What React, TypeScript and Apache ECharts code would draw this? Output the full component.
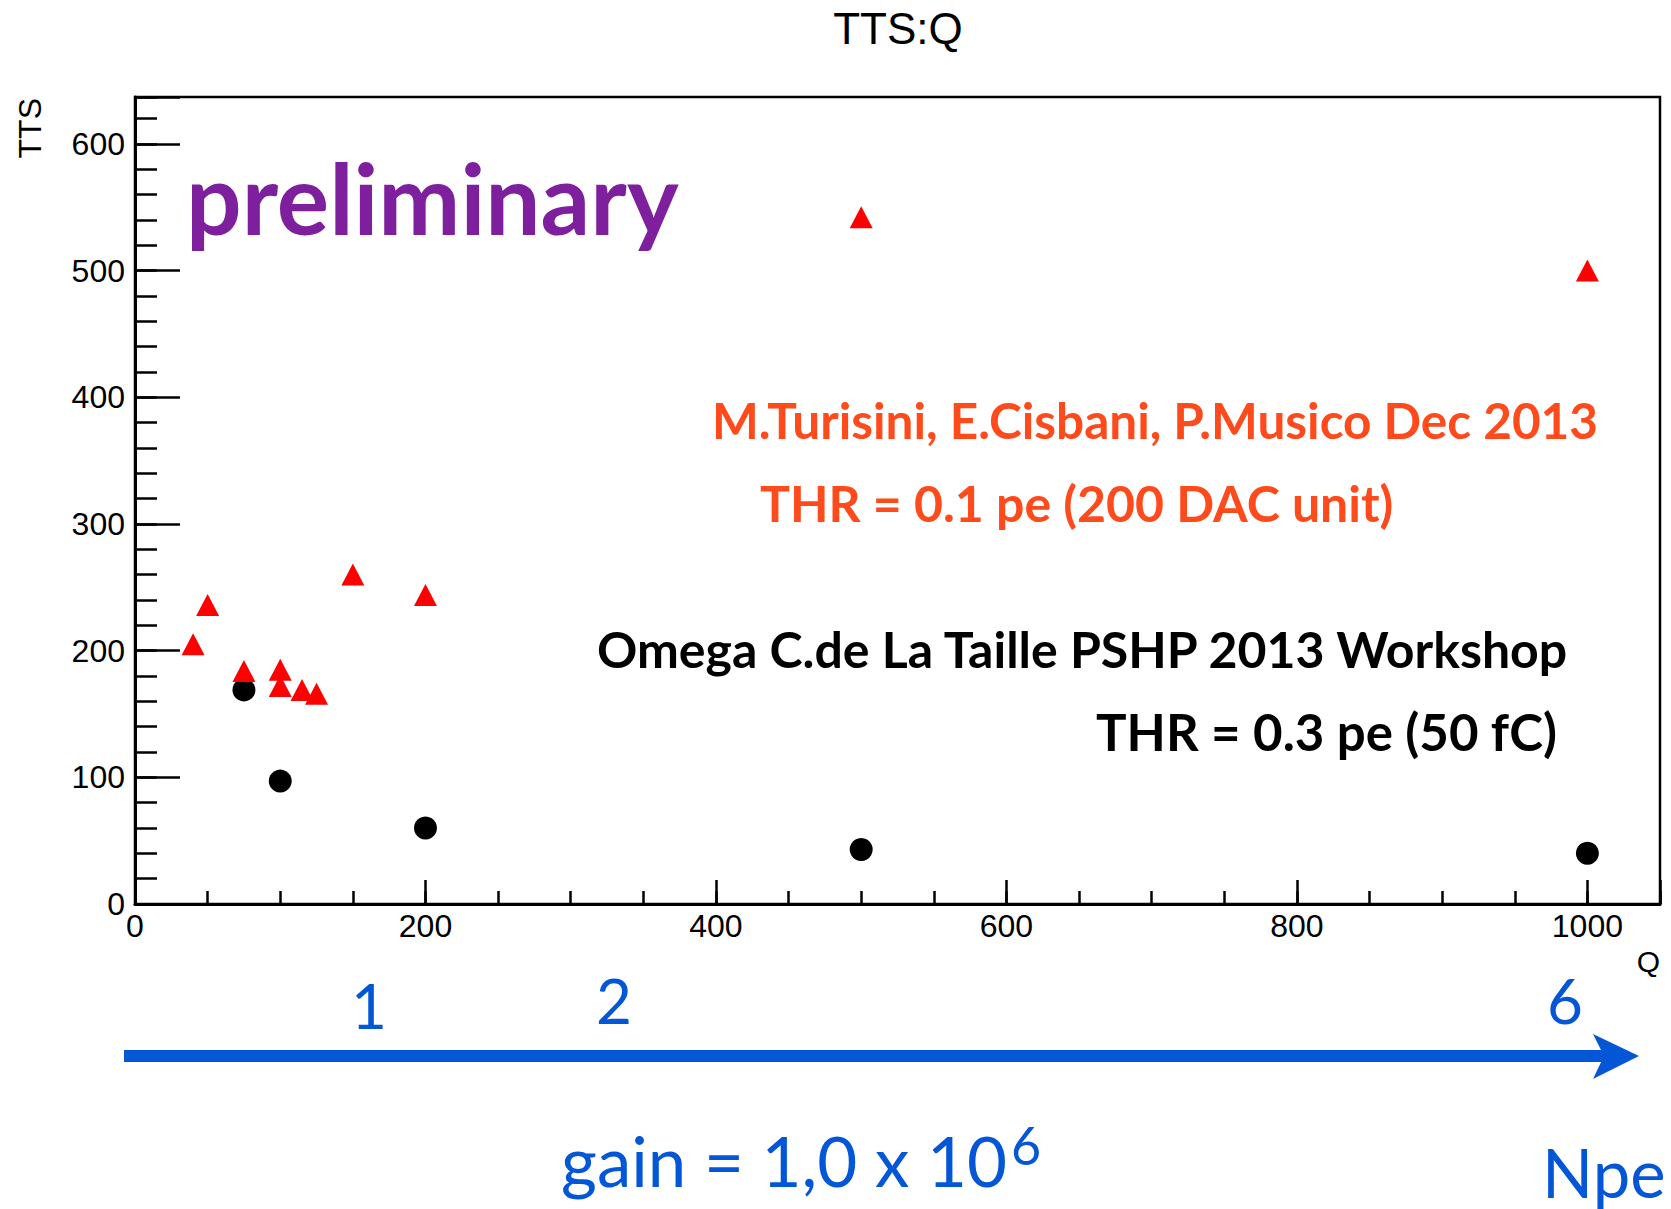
import React, { useEffect, useRef } from 'react';
import * as echarts from 'echarts';

// Omega (C.de La Taille) measurements: Q vs TTS
const omegaQ = [75, 100, 200, 500, 1000];
const omegaTTS = [169, 97, 60, 43, 40];
// Turisini / Cisbani / Musico measurements: Q vs TTS
const infnQ = [40, 50, 75, 100, 100, 115, 125, 150, 200, 500, 1000];
const infnTTS = [205, 236, 184, 185, 172, 169, 166, 260, 244, 542, 500];

const xMajorTicks = [0, 200, 400, 600, 800, 1000];
const yMajorTicks = [0, 100, 200, 300, 400, 500, 600];
const npeLabels = ['1', '2', '6'];

const ARIAL = '"Liberation Sans", Arial, Helvetica, sans-serif';
const GEO = 'Lato, "Noto Sans", sans-serif';
const BLUE = '#0357d6';

export default function App() {
  const ref = useRef<HTMLDivElement>(null);
  useEffect(() => {
    if (!ref.current) return;
    const chart = echarts.init(ref.current, undefined, { renderer: 'svg' });
    const grid = { left: 135, right: 11, top: 97, bottom: 305 };
    const tickStyle = { color: '#000', width: 2.5 };
    const option: any = {
      animation: false,
      backgroundColor: '#fff',
      grid: { ...grid, show: true, borderColor: '#000', borderWidth: 2.5, backgroundColor: 'transparent' },
      xAxis: [
        {
          type: 'value', min: 0, max: 1050, interval: 200, position: 'bottom',
          axisLine: { show: true, onZero: false, lineStyle: { color: '#000', width: 3 } },
          axisTick: { show: true, inside: true, length: 24, lineStyle: tickStyle },
          axisLabel: {
            show: true, margin: 6, color: '#000', fontSize: 32, fontFamily: ARIAL,
            formatter: (v: number) => (xMajorTicks.includes(v) ? String(v) : ''),
          },
          splitLine: { show: false },
        },
        {
          type: 'value', min: 0, max: 1050, interval: 50, position: 'bottom',
          axisLine: { show: false },
          axisTick: { show: true, inside: true, length: 13, lineStyle: tickStyle },
          axisLabel: { show: false },
          splitLine: { show: false },
        },
      ],
      yAxis: [
        {
          type: 'value', min: 0, max: 637, interval: 100, position: 'left',
          axisLine: { show: true, onZero: false, lineStyle: { color: '#000', width: 3 } },
          axisTick: { show: true, inside: true, length: 45, lineStyle: tickStyle },
          axisLabel: {
            show: true, margin: 10, color: '#000', fontSize: 32, fontFamily: ARIAL,
            formatter: (v: number) => (yMajorTicks.includes(v) ? String(v) : ''),
          },
          splitLine: { show: false },
        },
        {
          type: 'value', min: 0, max: 637, interval: 20, position: 'left',
          axisLine: { show: false },
          axisTick: { show: true, inside: true, length: 22, lineStyle: tickStyle },
          axisLabel: { show: false },
          splitLine: { show: false },
        },
      ],
      series: [
        {
          type: 'scatter', name: 'Omega', xAxisIndex: 0, yAxisIndex: 0,
          symbol: 'circle', symbolSize: 23,
          itemStyle: { color: '#000', opacity: 1 },
          data: omegaQ.map((q, i) => [q, omegaTTS[i]]),
          z: 3,
        },
        {
          type: 'scatter', name: 'INFN', xAxisIndex: 0, yAxisIndex: 0,
          symbol: 'triangle', symbolSize: [23, 22],
          itemStyle: { color: '#ff0000', opacity: 1 },
          data: infnQ.map((q, i) => [q, infnTTS[i]]),
          z: 4,
        },
      ],
      graphic: [
        { type: 'text', x: 898, y: 28, style: { text: 'TTS:Q', fontSize: 44, fontFamily: ARIAL, fill: '#000', align: 'center', verticalAlign: 'middle' } },
        { type: 'text', x: 30, y: 98, rotation: Math.PI / 2, style: { text: 'TTS', fontSize: 32, fontFamily: ARIAL, fill: '#000', align: 'right', verticalAlign: 'middle' } },
        { type: 'text', x: 1660, y: 961, style: { text: 'Q', fontSize: 30, fontFamily: ARIAL, fill: '#000', align: 'right', verticalAlign: 'middle' } },
        { type: 'text', x: 186, y: 197, style: { text: 'preliminary', fontSize: 98, fontWeight: 'bold', fontFamily: GEO, fill: '#7e209e', align: 'left', verticalAlign: 'middle' } },
        { type: 'text', x: 712, y: 420, style: { text: 'M.Turisini, E.Cisbani, P.Musico Dec 2013', fontSize: 49.5, fontWeight: 'bold', fontFamily: GEO, fill: '#ff4a1c', align: 'left', verticalAlign: 'middle' } },
        { type: 'text', x: 760, y: 503, style: { text: 'THR = 0.1 pe (200 DAC unit)', fontSize: 50, fontWeight: 'bold', fontFamily: GEO, fill: '#ff4a1c', align: 'left', verticalAlign: 'middle' } },
        { type: 'text', x: 597, y: 649, style: { text: 'Omega C.de La Taille PSHP 2013 Workshop', fontSize: 50, fontWeight: 'bold', fontFamily: GEO, fill: '#000', align: 'left', verticalAlign: 'middle' } },
        { type: 'text', x: 1096, y: 731, style: { text: 'THR = 0.3 pe (50 fC)', fontSize: 51, fontWeight: 'bold', fontFamily: GEO, fill: '#000', align: 'left', verticalAlign: 'middle' } },
        { type: 'text', x: 369, y: 1005, style: { text: npeLabels[0], fontSize: 62, fontFamily: GEO, fill: BLUE, align: 'center', verticalAlign: 'middle' } },
        { type: 'text', x: 614, y: 1000, style: { text: npeLabels[1], fontSize: 62, fontFamily: GEO, fill: BLUE, align: 'center', verticalAlign: 'middle' } },
        { type: 'text', x: 1565, y: 1000, style: { text: npeLabels[2], fontSize: 62, fontFamily: GEO, fill: BLUE, align: 'center', verticalAlign: 'middle' } },
        { type: 'line', shape: { x1: 124, y1: 1056, x2: 1606, y2: 1056 }, style: { stroke: BLUE, lineWidth: 12 } },
        { type: 'polygon', shape: { points: [[1593, 1034], [1639, 1056], [1593, 1079], [1604, 1056]] }, style: { fill: BLUE } },
        { type: 'text', x: 561, y: 1160, style: { text: 'gain = 1,0 x 10', fontSize: 69, fontFamily: GEO, fill: BLUE, align: 'left', verticalAlign: 'middle' } },
        { type: 'text', x: 1011, y: 1145, style: { text: '6', fontSize: 52, fontFamily: GEO, fill: BLUE, align: 'left', verticalAlign: 'middle' } },
        { type: 'text', x: 1542, y: 1172, style: { text: 'Npe', fontSize: 67, fontFamily: GEO, fill: BLUE, align: 'left', verticalAlign: 'middle' } },
      ],
    };
    chart.setOption(option);
    return () => chart.dispose();
  }, []);
  return (
    <div
      ref={ref}
      style={{ position: 'absolute', left: 0, top: 0, width: 1671, height: 1209, background: '#fff' }}
    />
  );
}
